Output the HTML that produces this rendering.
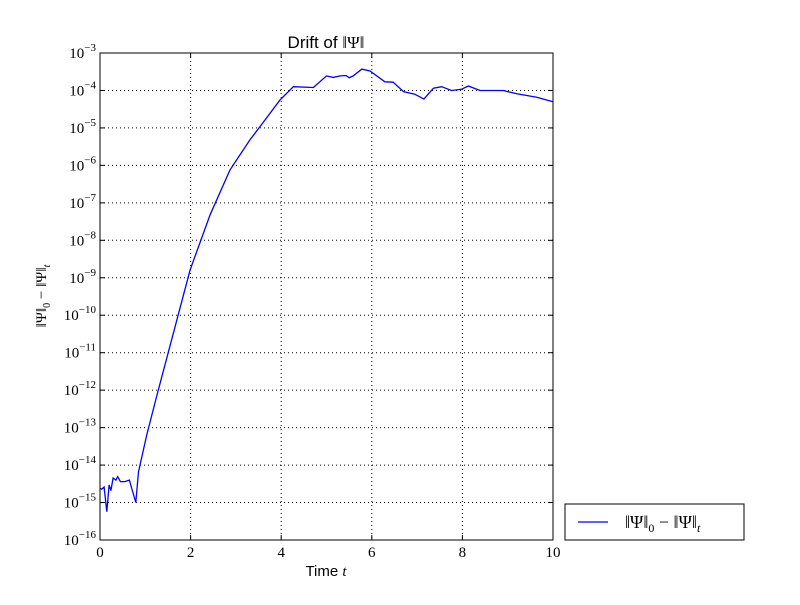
<!DOCTYPE html>
<html><head><meta charset="utf-8"><style>
body{margin:0;background:#fff;}
svg text{font-family:"Liberation Serif",serif;}
</style></head><body>
<svg id="chart" width="800" height="600" xmlns="http://www.w3.org/2000/svg">
<rect width="800" height="600" fill="#fff"/>
<g id="grid"></g>
<g id="ticks"></g>
<path id="line" fill="none" stroke="#0000ff" stroke-width="1.3"/>
<rect x="100" y="53" width="453" height="487" fill="none" stroke="#000" stroke-width="1"/>
<text x="326" y="48" text-anchor="middle" font-size="17" style="font-family:'Liberation Sans',sans-serif">Drift of <tspan style="font-family:'Liberation Serif',serif">‖Ψ‖</tspan></text>
<text x="326" y="576" text-anchor="middle" font-size="15" style="font-family:'Liberation Sans',sans-serif">Time <tspan font-style="italic" style="font-family:'Liberation Serif',serif">t</tspan></text>
<text transform="translate(46,296) rotate(-90)" text-anchor="middle" font-size="15">‖Ψ‖<tspan font-size="10" dy="4">0</tspan><tspan dy="-4"> − ‖Ψ‖</tspan><tspan font-size="10" dy="4" font-style="italic">t</tspan></text>
<g>
<rect x="565" y="504" width="179" height="36" fill="#fff" stroke="#000"/>
<line x1="578" y1="522" x2="608" y2="522" stroke="#0000ff" stroke-width="1.3"/>
<text x="625" y="528" font-size="18">‖Ψ‖<tspan font-size="12" dy="4">0</tspan><tspan dy="-4"> − ‖Ψ‖</tspan><tspan font-size="12" dy="4" font-style="italic">t</tspan></text>
</g>
</svg>
<script>
const tValues=[0,0.04,0.09,0.15,0.2,0.24,0.29,0.35,0.39,0.45,0.55,0.65,0.71,0.79,0.85,1.03,1.25,1.99,2.43,2.87,3.31,3.64,3.97,4.27,4.71,5.0,5.15,5.3,5.43,5.5,5.59,5.78,5.96,6.29,6.47,6.7,6.95,7.15,7.36,7.54,7.76,7.98,8.13,8.39,8.9,9.2,9.64,10.0];
const logValues=[-14.62,-14.64,-14.585,-15.245,-14.53,-14.68,-14.345,-14.4,-14.31,-14.44,-14.44,-14.4,-14.665,-15.0,-14.18,-13.2,-12.17,-8.79,-7.32,-6.12,-5.32,-4.79,-4.26,-3.9,-3.92,-3.61,-3.65,-3.61,-3.6,-3.66,-3.61,-3.43,-3.48,-3.77,-3.78,-4.03,-4.1,-4.23,-3.94,-3.9,-4.0,-3.97,-3.88,-4.0,-4.0,-4.09,-4.18,-4.3];
const xTicks=[0,2,4,6,8,10];
const yTickExps=[-16,-15,-14,-13,-12,-11,-10,-9,-8,-7,-6,-5,-4,-3];
const X0=100,X1=553,Y0=540,Y1=53;
const xs=t=>X0+(t-0)/10*(X1-X0);
const ys=e=>Y0-(e+16)/13*(Y0-Y1);
const NS="http://www.w3.org/2000/svg";
const grid=document.getElementById('grid'),ticks=document.getElementById('ticks');
function mk(tag,attrs,parent){const el=document.createElementNS(NS,tag);for(const k in attrs)el.setAttribute(k,attrs[k]);parent.appendChild(el);return el;}
xTicks.forEach(t=>{
  const x=xs(t);
  const g=mk('line',{x1:x,x2:x,y1:Y1,y2:Y0,stroke:'#000','stroke-dasharray':'1,3','stroke-width':1},grid);
  
  
  mk('line',{x1:x,x2:x,y1:Y0,y2:Y0-5,stroke:'#000'},ticks);
  mk('line',{x1:x,x2:x,y1:Y1,y2:Y1+5,stroke:'#000'},ticks);
  const tx=mk('text',{x:x,y:Y0+17,'text-anchor':'middle','font-size':15},ticks);
  tx.textContent=t;
  
  
});
yTickExps.forEach(e=>{
  const y=ys(e);
  const g=mk('line',{x1:X0,x2:X1,y1:y,y2:y,stroke:'#000','stroke-dasharray':'1,3','stroke-width':1},grid);
  
  
  mk('line',{x1:X0,x2:X0+5,y1:y,y2:y,stroke:'#000'},ticks);
  mk('line',{x1:X1,x2:X1-5,y1:y,y2:y,stroke:'#000'},ticks);
  const tx=mk('text',{x:X0-4,y:y+5,'text-anchor':'end','font-size':15},ticks);
  tx.innerHTML='10<tspan font-size="11" dy="-7">'+(e<0?'−'+(-e):e)+'</tspan>';
  
  
});
let d='';
tValues.forEach((t,i)=>{d+=(i?'L':'M')+xs(t).toFixed(1)+','+ys(logValues[i]).toFixed(1);});
document.getElementById('line').setAttribute('d',d);
</script>
</body></html>
